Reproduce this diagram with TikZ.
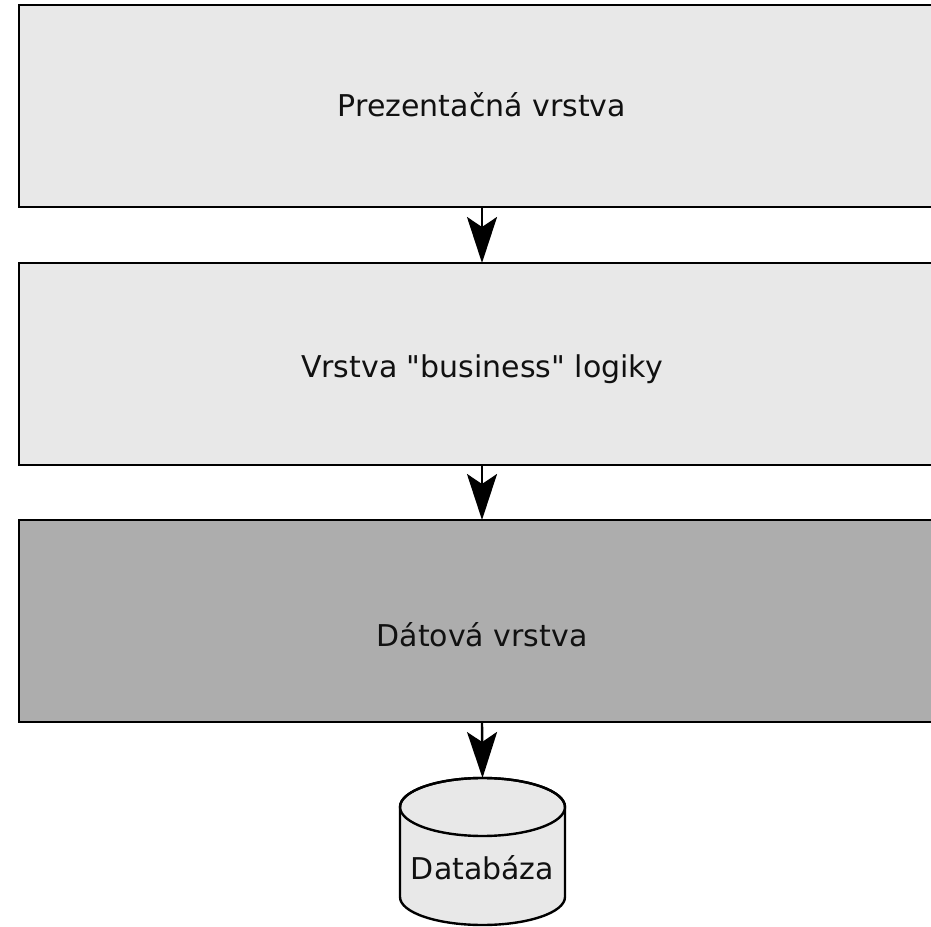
\documentclass[tikz,border=0pt]{standalone}
\usepackage{fontspec}
\setmainfont{DejaVu Sans}[Ligatures=TeXOff]
\usetikzlibrary{arrows.meta}
\definecolor{lightfill}{HTML}{E8E8E8}
\definecolor{darkfill}{HTML}{ADADAD}
\definecolor{txt}{HTML}{111111}
\begin{document}
\begin{tikzpicture}[x=1pt,y=1pt,
  layer/.style={draw=black, line width=2.8pt, minimum width=926pt, minimum height=202pt, inner sep=0pt, outer sep=0pt},
  label text/.style={anchor=base, inner sep=0pt, text=txt, font=\fontsize{30}{36}\selectfont},
  arr/.style={draw=black, line width=2.4pt, -{Stealth[length=46pt, width=30pt, inset=10pt]}}]
\useasboundingbox (0,0) rectangle (931,926);
\clip (0,0) rectangle (931,926);
\node[layer, fill=lightfill] (L1) at (482,820) {};
\node[layer, fill=lightfill] (L2) at (482,562) {};
\node[layer, fill=darkfill] (L3) at (482,305) {};
\node[label text] (t1) at (482,809) {Prezentačná vrstva};
\node[label text] (t2) at (482,548) {Vrstva "business" logiky};
\node[label text] (t3) at (482,279) {Dátová vrstva};
% cylinder
\coordinate (dbtop) at (482.5,148);
\draw[line width=2.4pt, fill=lightfill] (400,119) -- (400,29) arc (180:360:82.5 and 28) -- (565,119) arc (0:180:82.5 and 29) -- cycle;
\draw[line width=2.4pt] (482.5,119) ellipse (82.5 and 29);
\node[label text] (db) at (482.5,47) {Databáza};
\draw[arr] (L1.south) -- (L2.north);
\draw[arr] (L2.south) -- (L3.north);
\draw[arr] (L3.south) -- (dbtop);
\end{tikzpicture}
\end{document}
